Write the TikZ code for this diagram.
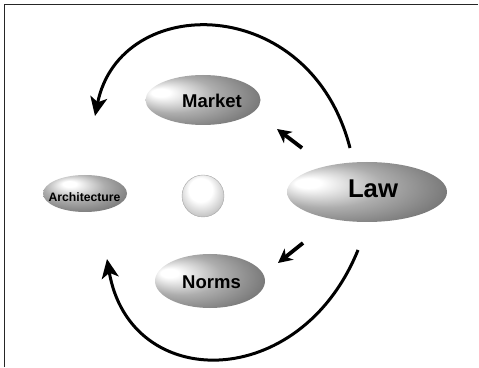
\documentclass[tikz,border=0pt]{standalone}
\usepackage{fontspec}
\setmainfont{Liberation Sans}
\usetikzlibrary{shapes.geometric,arrows.meta}
\pgfdeclareradialshading{eggA}{\pgfpoint{-20bp}{8bp}}{color(0bp)=(white); color(4bp)=(white); color(18bp)=(black!32); color(34bp)=(black!55); color(50bp)=(black!70)}
\pgfdeclareradialshading{eggB}{\pgfpoint{-10bp}{14bp}}{color(0bp)=(white); color(4bp)=(white); color(18bp)=(black!32); color(34bp)=(black!55); color(50bp)=(black!70)}
\pgfdeclareradialshading{ballC}{\pgfpoint{-4bp}{10bp}}{color(0bp)=(white); color(14bp)=(white); color(30bp)=(black!25); color(42bp)=(black!48); color(50bp)=(black!65)}
\tikzset{
  egg/.style={ellipse, shading=eggA, inner sep=0pt},
  eggtwo/.style={ellipse, shading=eggB, inner sep=0pt},
  lbl/.style={font=\bfseries, text=black, inner sep=0pt, anchor=base},
  bigarrow/.style={line width=3pt, -{Stealth[length=19pt,width=17pt,inset=5pt]}},
  smallarrow/.style={line width=3.8pt, -{Stealth[length=14pt,width=14pt,inset=4pt]}},
  frameline/.style={line width=1pt, black!85}
}
\begin{document}
\begin{tikzpicture}[x=1pt,y=1pt]
\useasboundingbox (0,0) rectangle (479,367);
\coordinate (fa) at (4,0);
\coordinate (fb) at (4,362);
\coordinate (fc) at (478,362);
\draw[frameline] (fa) -- (fb) -- (fc);

\node[egg, minimum width=115pt, minimum height=50pt] (market) at (203,267) {};
\node[egg, minimum width=160pt, minimum height=60pt] (law) at (367,175) {};
\node[eggtwo, minimum width=84pt, minimum height=37pt] (arch) at (85,173.5) {};
\node[circle, shading=ballC, draw=black!35, line width=0.4pt, minimum size=42pt, inner sep=0pt] (ball) at (203,171) {};
\node[egg, minimum width=110pt, minimum height=54pt] (norms) at (210,86) {};

\node[lbl, font=\bfseries\fontsize{18.5}{20}\selectfont] (tmarket) at (212,259) {Market};
\node[lbl, font=\bfseries\fontsize{25.7}{28}\selectfont] (tlaw) at (373,169) {Law};
\node[lbl, font=\bfseries\fontsize{12.2}{14}\selectfont] (tarch) at (84.5,165) {Architecture};
\node[lbl, font=\bfseries\fontsize{18.5}{20}\selectfont] (tnorms) at (211.5,79) {Norms};

\coordinate (s1a) at (302,219);
\coordinate (s1b) at (277,238);
\coordinate (s2a) at (303,124);
\coordinate (s2b) at (278,104);
\draw[smallarrow] (s1a) -- (s1b);
\draw[smallarrow] (s2a) -- (s2b);

\coordinate (t1) at (350,219);
\coordinate (t2) at (95,251);
\draw[bigarrow] (t1) .. controls (310,375) and (120,375) .. (t2);
\coordinate (b1) at (358,117);
\coordinate (b2) at (107,108);
\draw[bigarrow] (b1) .. controls (300,-26) and (130,-26) .. (b2);
\end{tikzpicture}
\end{document}
